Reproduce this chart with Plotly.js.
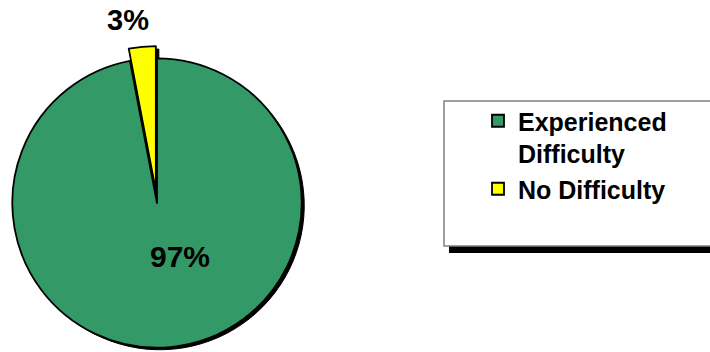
<!DOCTYPE html>
<html>
<head>
<meta charset="utf-8">
<script src="https://cdn.plot.ly/plotly-3.0.1.min.js"></script>
<style>
html,body{margin:0;padding:0;overflow:hidden;background:#fff;}
#chart{width:710px;height:362px;}
</style>
</head>
<body>
<div id="chart"></div>
<script>
// Data
const categories = ['Experienced<br>Difficulty', 'No Difficulty'];
const values = [97, 3];
const sliceColors = ['#339966', '#FFFF00'];
const pulls = [0, 0.085];

const W = 710, H = 362;
const px = v => v / W;
const py = v => 1 - v / H;

// pie geometry (pixels)
const cx = 157, cy = 203, half = 157;
const sh = 3; // shadow offset

const shadow = {
  type: 'pie',
  values: values,
  labels: ['s1', 's2'],
  sort: false,
  direction: 'clockwise',
  rotation: 0,
  pull: pulls,
  textinfo: 'none',
  hoverinfo: 'skip',
  showlegend: false,
  marker: {colors: ['#000000', '#000000'], line: {color: '#000000', width: 1}},
  domain: {x: [px(cx - half + sh), px(cx + half + sh)], y: [py(cy + half + sh), py(cy - half + sh)]}
};

const main = {
  type: 'pie',
  values: values,
  labels: categories,
  sort: false,
  direction: 'clockwise',
  rotation: 0,
  pull: pulls,
  textinfo: 'none',
  hoverinfo: 'label+percent',
  marker: {colors: sliceColors, line: {color: '#000000', width: 1.8}},
  domain: {x: [px(cx - half), px(cx + half)], y: [py(cy + half), py(cy - half)]}
};

const total = values.reduce((a, b) => a + b, 0);
const pct = values.map(v => Math.round(v / total * 100) + '%');

const layout = {
  width: W, height: H,
  margin: {l: 0, r: 0, t: 0, b: 0},
  paper_bgcolor: '#ffffff',
  font: {family: 'Liberation Sans, Arial, sans-serif', color: '#000000'},
  showlegend: true,
  legend: {
    x: px(478), y: py(98), xanchor: 'left', yanchor: 'top',
    bgcolor: 'rgba(0,0,0,0)', borderwidth: 0,
    valign: 'top',
    font: {family: 'Liberation Sans, Arial, sans-serif', size: 25, color: '#000000', weight: 'bold'}
  },
  shapes: [
    {type: 'rect', xref: 'paper', yref: 'paper', x0: px(449), x1: px(720), y0: py(253), y1: py(106),
     fillcolor: '#000000', line: {width: 0}, layer: 'above'},
    {type: 'rect', xref: 'paper', yref: 'paper', x0: px(444), x1: px(716), y0: py(246), y1: py(101),
     fillcolor: '#ffffff', line: {color: '#808080', width: 1.5}, layer: 'above'}
  ],
  annotations: [
    {text: '<b>' + pct[0] + '</b>', x: px(180), y: py(256), xref: 'paper', yref: 'paper', showarrow: false,
     xanchor: 'center', yanchor: 'middle',
     font: {size: 30, family: 'Liberation Sans, Arial, sans-serif', color: '#000000'}},
    {text: '<b>' + pct[1] + '</b>', x: px(128), y: py(20), xref: 'paper', yref: 'paper', showarrow: false,
     xanchor: 'center', yanchor: 'middle',
     font: {size: 29, family: 'Liberation Sans, Arial, sans-serif', color: '#000000'}}
  ]
};

Plotly.newPlot('chart', [shadow, main], layout, {displayModeBar: false, staticPlot: true});
</script>
</body>
</html>
